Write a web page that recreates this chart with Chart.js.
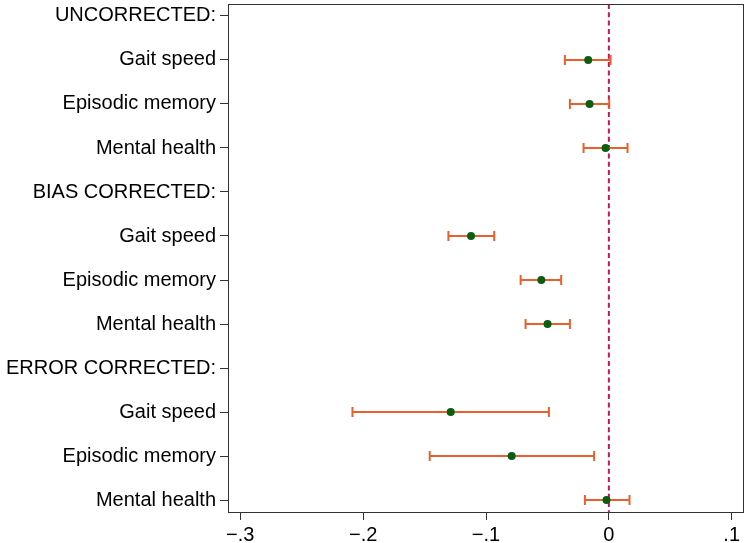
<!DOCTYPE html>
<html>
<head>
<meta charset="utf-8">
<script src="https://cdn.jsdelivr.net/npm/chart.js@4/dist/chart.umd.min.js"></script>
<style>
    html, body { margin: 0; padding: 0; background: #fff; }
    #wrap { width: 748px; height: 543px; }
</style>
</head>
<body>
<div id="wrap"><canvas id="chart1"></canvas></div>
<script>
const rowLabels = ['UNCORRECTED:', 'Gait speed', 'Episodic memory', 'Mental health',
    'BIAS CORRECTED:', 'Gait speed', 'Episodic memory', 'Mental health',
    'ERROR CORRECTED:', 'Gait speed', 'Episodic memory', 'Mental health']
const estimates = [null, -0.0168, -0.0157, -0.0027, null, -0.1122, -0.0550, -0.0499, null, -0.1287, -0.0791, -0.0019]
const lower = [null, -0.0358, -0.0317, -0.0206, null, -0.1306, -0.0718, -0.0678, null, -0.2087, -0.1458, -0.0195]
const upper = [null, 0.0014, 0.0003, 0.0152, null, -0.0933, -0.0388, -0.0317, null, -0.0488, -0.0120, 0.0168]
const xTicks = [-0.3, -0.2, -0.1, 0, 0.1]

Chart.defaults.font.family = "'Liberation Sans', Arial, Helvetica, sans-serif"
Chart.defaults.font.size = 20
Chart.defaults.color = '#000'

const points = estimates
    .map((est, i) => est === null ? null : { x: est, y: i })
    .filter(p => p !== null)

// zero reference line, error bars and the frame round the plot
const coefPlot = {
    id: 'coefPlot',
    beforeDatasetsDraw(chart) {
        const { ctx, chartArea, scales: { x, y } } = chart
        ctx.save()

        ctx.strokeStyle = '#c2185b'
        ctx.lineWidth = 2
        ctx.setLineDash([5, 3.3])
        const x0 = x.getPixelForValue(0)
        ctx.beginPath()
        ctx.moveTo(x0, chartArea.top)
        ctx.lineTo(x0, chartArea.bottom)
        ctx.stroke()
        ctx.setLineDash([])

        ctx.strokeStyle = '#e8602c'
        ctx.lineWidth = 2
        lower.forEach((lo, i) => {
            if (lo === null) return
            const yp = y.getPixelForValue(i)
            const x1 = x.getPixelForValue(lo)
            const x2 = x.getPixelForValue(upper[i])
            ctx.beginPath()
            ctx.moveTo(x1, yp)
            ctx.lineTo(x2, yp)
            ctx.moveTo(x1, yp - 5)
            ctx.lineTo(x1, yp + 5)
            ctx.moveTo(x2, yp - 5)
            ctx.lineTo(x2, yp + 5)
            ctx.stroke()
        })
        ctx.restore()
    },
    afterDraw(chart) {
        const { ctx, chartArea } = chart
        ctx.save()
        ctx.strokeStyle = '#333'
        ctx.lineWidth = 1
        ctx.strokeRect(chartArea.left + 0.5, chartArea.top + 0.5,
            chartArea.right - chartArea.left - 1, chartArea.bottom - chartArea.top)
        ctx.restore()
    }
}

const data = {
    datasets: [{
        data: points,
        pointRadius: 4,
        pointHoverRadius: 4,
        pointBackgroundColor: '#0b5d0f',
        pointBorderColor: '#0b5d0f',
        pointBorderWidth: 0,
        showLine: false
    }]
}

const options = {
    responsive: false,
    animation: false,
    layout: {
        padding: { top: 3, right: 3, left: 0, bottom: 0 }
    },
    plugins: {
        legend: { display: false },
        tooltip: { enabled: false }
    },
    scales: {
        x: {
            type: 'linear',
            min: -0.31,
            max: 0.11,
            afterBuildTicks: scale => { scale.ticks = xTicks.map(v => ({ value: v })) },
            afterFit: scale => {
                scale.height = 31
                scale.paddingLeft = 0
                scale.paddingRight = 0
            },
            border: { display: false },
            grid: { drawOnChartArea: false, tickLength: 8, color: '#333', tickWidth: 1 },
            ticks: {
                padding: 3,
                maxRotation: 0,
                callback: v => v === 0 ? '0' : (v < 0 ? '\u2212' : '') + Math.abs(v).toFixed(1).replace(/^0/, '')
            }
        },
        y: {
            type: 'linear',
            reverse: true,
            min: -0.272,
            max: 11.272,
            afterBuildTicks: scale => { scale.ticks = rowLabels.map((l, i) => ({ value: i })) },
            afterFit: scale => {
                scale.width = 228
                scale.paddingTop = 0
                scale.paddingBottom = 0
            },
            border: { display: false },
            grid: { drawOnChartArea: false, tickLength: 8, color: '#333', tickWidth: 1 },
            ticks: {
                padding: 4,
                autoSkip: false,
                callback: v => rowLabels[v]
            }
        }
    }
}

const canvas = document.getElementById('chart1')
canvas.width = 748
canvas.height = 543
new Chart(canvas, { type: 'scatter', data, options, plugins: [coefPlot] })
</script>
</body>
</html>
